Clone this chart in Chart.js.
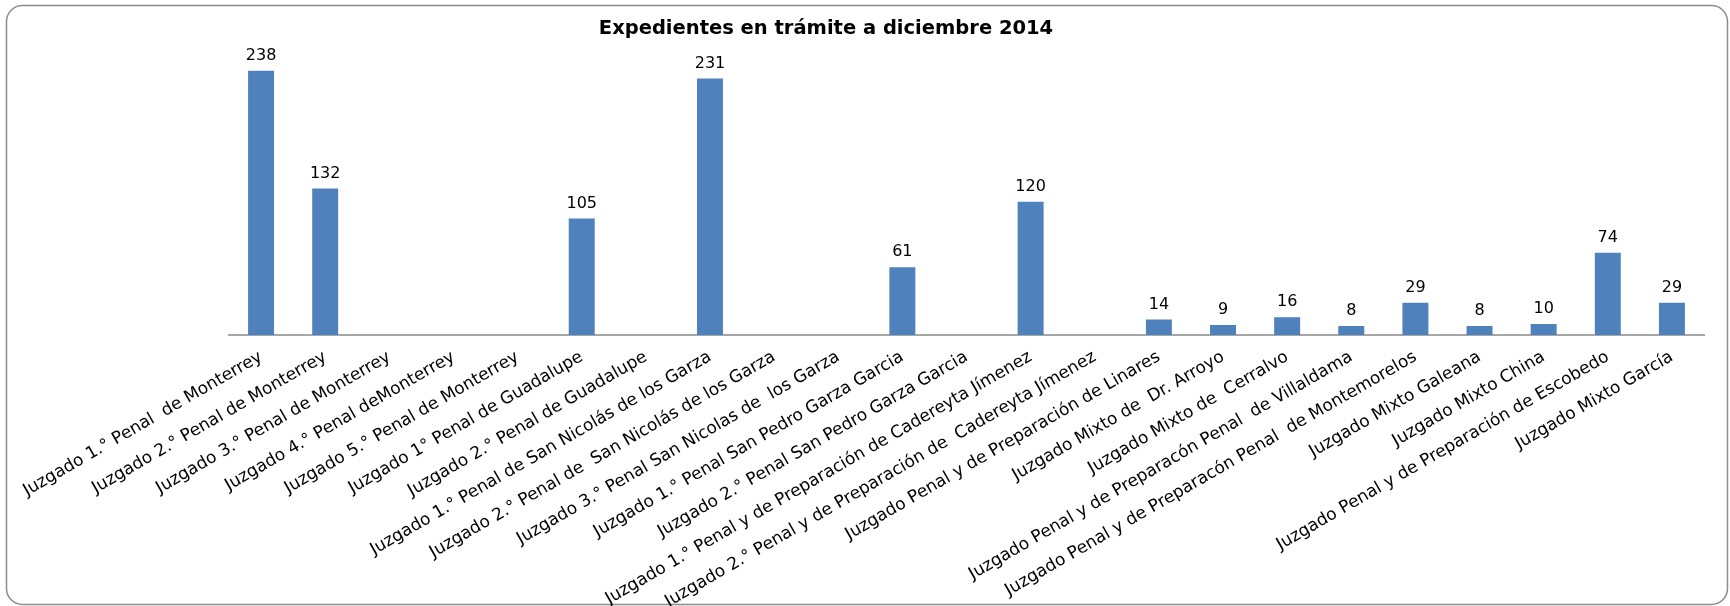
<!DOCTYPE html>
<html>
<head>
<meta charset="utf-8">
<script src="https://cdn.jsdelivr.net/npm/chart.js@4.4.1/dist/chart.umd.min.js"></script>
<style>
  html, body { margin: 0; padding: 0; background: #ffffff; }
  #c { display: block; }
</style>
</head>
<body>
<canvas id="c" width="1730" height="606"></canvas>
<script>
const chartTitle = 'Expedientes en trámite a diciembre 2014';

const categories = [
  'Juzgado 1.° Penal  de Monterrey',
  'Juzgado 2.° Penal de Monterrey',
  'Juzgado 3.° Penal de Monterrey',
  'Juzgado 4.° Penal deMonterrey',
  'Juzgado 5.° Penal de Monterrey',
  'Juzgado 1° Penal de Guadalupe',
  'Juzgado 2.° Penal de Guadalupe',
  'Juzgado 1.° Penal de San Nicolás de los Garza',
  'Juzgado 2.° Penal de  San Nicolás de los Garza',
  'Juzgado 3.° Penal San Nicolas de  los Garza',
  'Juzgado 1.° Penal San Pedro Garza Garcia',
  'Juzgado 2.° Penal San Pedro Garza Garcia',
  'Juzgado 1.° Penal y de Preparación de Cadereyta Jímenez',
  'Juzgado 2.° Penal y de Preparación de  Cadereyta Jímenez',
  'Juzgado Penal y de Preparación de Linares',
  'Juzgado Mixto de  Dr. Arroyo',
  'Juzgado Mixto de  Cerralvo',
  'Juzgado Penal y de Preparacón Penal  de Villaldama',
  'Juzgado Penal y de Preparacón Penal  de Montemorelos',
  'Juzgado Mixto Galeana',
  'Juzgado Mixto China',
  'Juzgado Penal y de Preparación de Escobedo',
  'Juzgado Mixto García'
];

const expedientes = [238, 132, 0, 0, 0, 105, 0, 231, 0, 0, 61, 0, 120, 0, 14, 9, 16, 8, 29, 8, 10, 74, 29];

const framePlugin = {
  id: 'frame',
  beforeDraw(chart) {
    const ctx = chart.ctx;
    ctx.save();
    ctx.fillStyle = '#ffffff';
    ctx.fillRect(0, 0, chart.width, chart.height);
    ctx.beginPath();
    ctx.roundRect(6.5, 5.5, 1721, 599, 16);
    ctx.strokeStyle = '#8c8c8c';
    ctx.lineWidth = 1.5;
    ctx.stroke();
    ctx.restore();
  }
};

const titlePlugin = {
  id: 'customTitle',
  afterDraw(chart) {
    const ctx = chart.ctx;
    ctx.save();
    ctx.font = 'bold 19.5px "DejaVu Sans"';
    ctx.fillStyle = '#000000';
    ctx.textAlign = 'center';
    ctx.textBaseline = 'middle';
    ctx.fillText(chartTitle, 826, 29);
    ctx.restore();
  }
};

const valueLabels = {
  id: 'valueLabels',
  afterDatasetsDraw(chart) {
    const ctx = chart.ctx;
    const meta = chart.getDatasetMeta(0);
    ctx.save();
    ctx.font = '16px "DejaVu Sans"';
    ctx.fillStyle = '#000000';
    ctx.textAlign = 'center';
    ctx.textBaseline = 'bottom';
    meta.data.forEach((bar, i) => {
      const v = chart.data.datasets[0].data[i];
      if (!v) return;
      ctx.fillText(String(v), bar.x, bar.y - 7);
    });
    ctx.restore();
  }
};

new Chart(document.getElementById('c'), {
  type: 'bar',
  data: {
    labels: categories,
    datasets: [{
      data: expedientes,
      backgroundColor: '#4f81bd',
      borderWidth: 0,
      barPercentage: 0.405,
      categoryPercentage: 1.0
    }]
  },
  options: {
    responsive: false,
    devicePixelRatio: 1,
    animation: false,
    events: [],
    layout: { padding: { left: 229, right: 26, top: 57.5, bottom: 0 } },
    plugins: {
      legend: { display: false },
      title: { display: false },
      tooltip: { enabled: false }
    },
    scales: {
      x: {
        grid: { display: false, drawTicks: false },
        border: { display: true, color: '#a6a6a6', width: 2 },
        ticks: {
          autoSkip: false,
          maxRotation: 30,
          minRotation: 30,
          padding: 12,
          color: '#000000',
          font: { family: '"DejaVu Sans"', size: 17 }
        },
        afterFit(scale) {
          scale.height = 606 - 335;
          scale.paddingLeft = 0;
          scale.paddingRight = 0;
        }
      },
      y: {
        display: false,
        min: 0,
        max: 250
      }
    }
  },
  plugins: [framePlugin, titlePlugin, valueLabels]
});
</script>
</body>
</html>
